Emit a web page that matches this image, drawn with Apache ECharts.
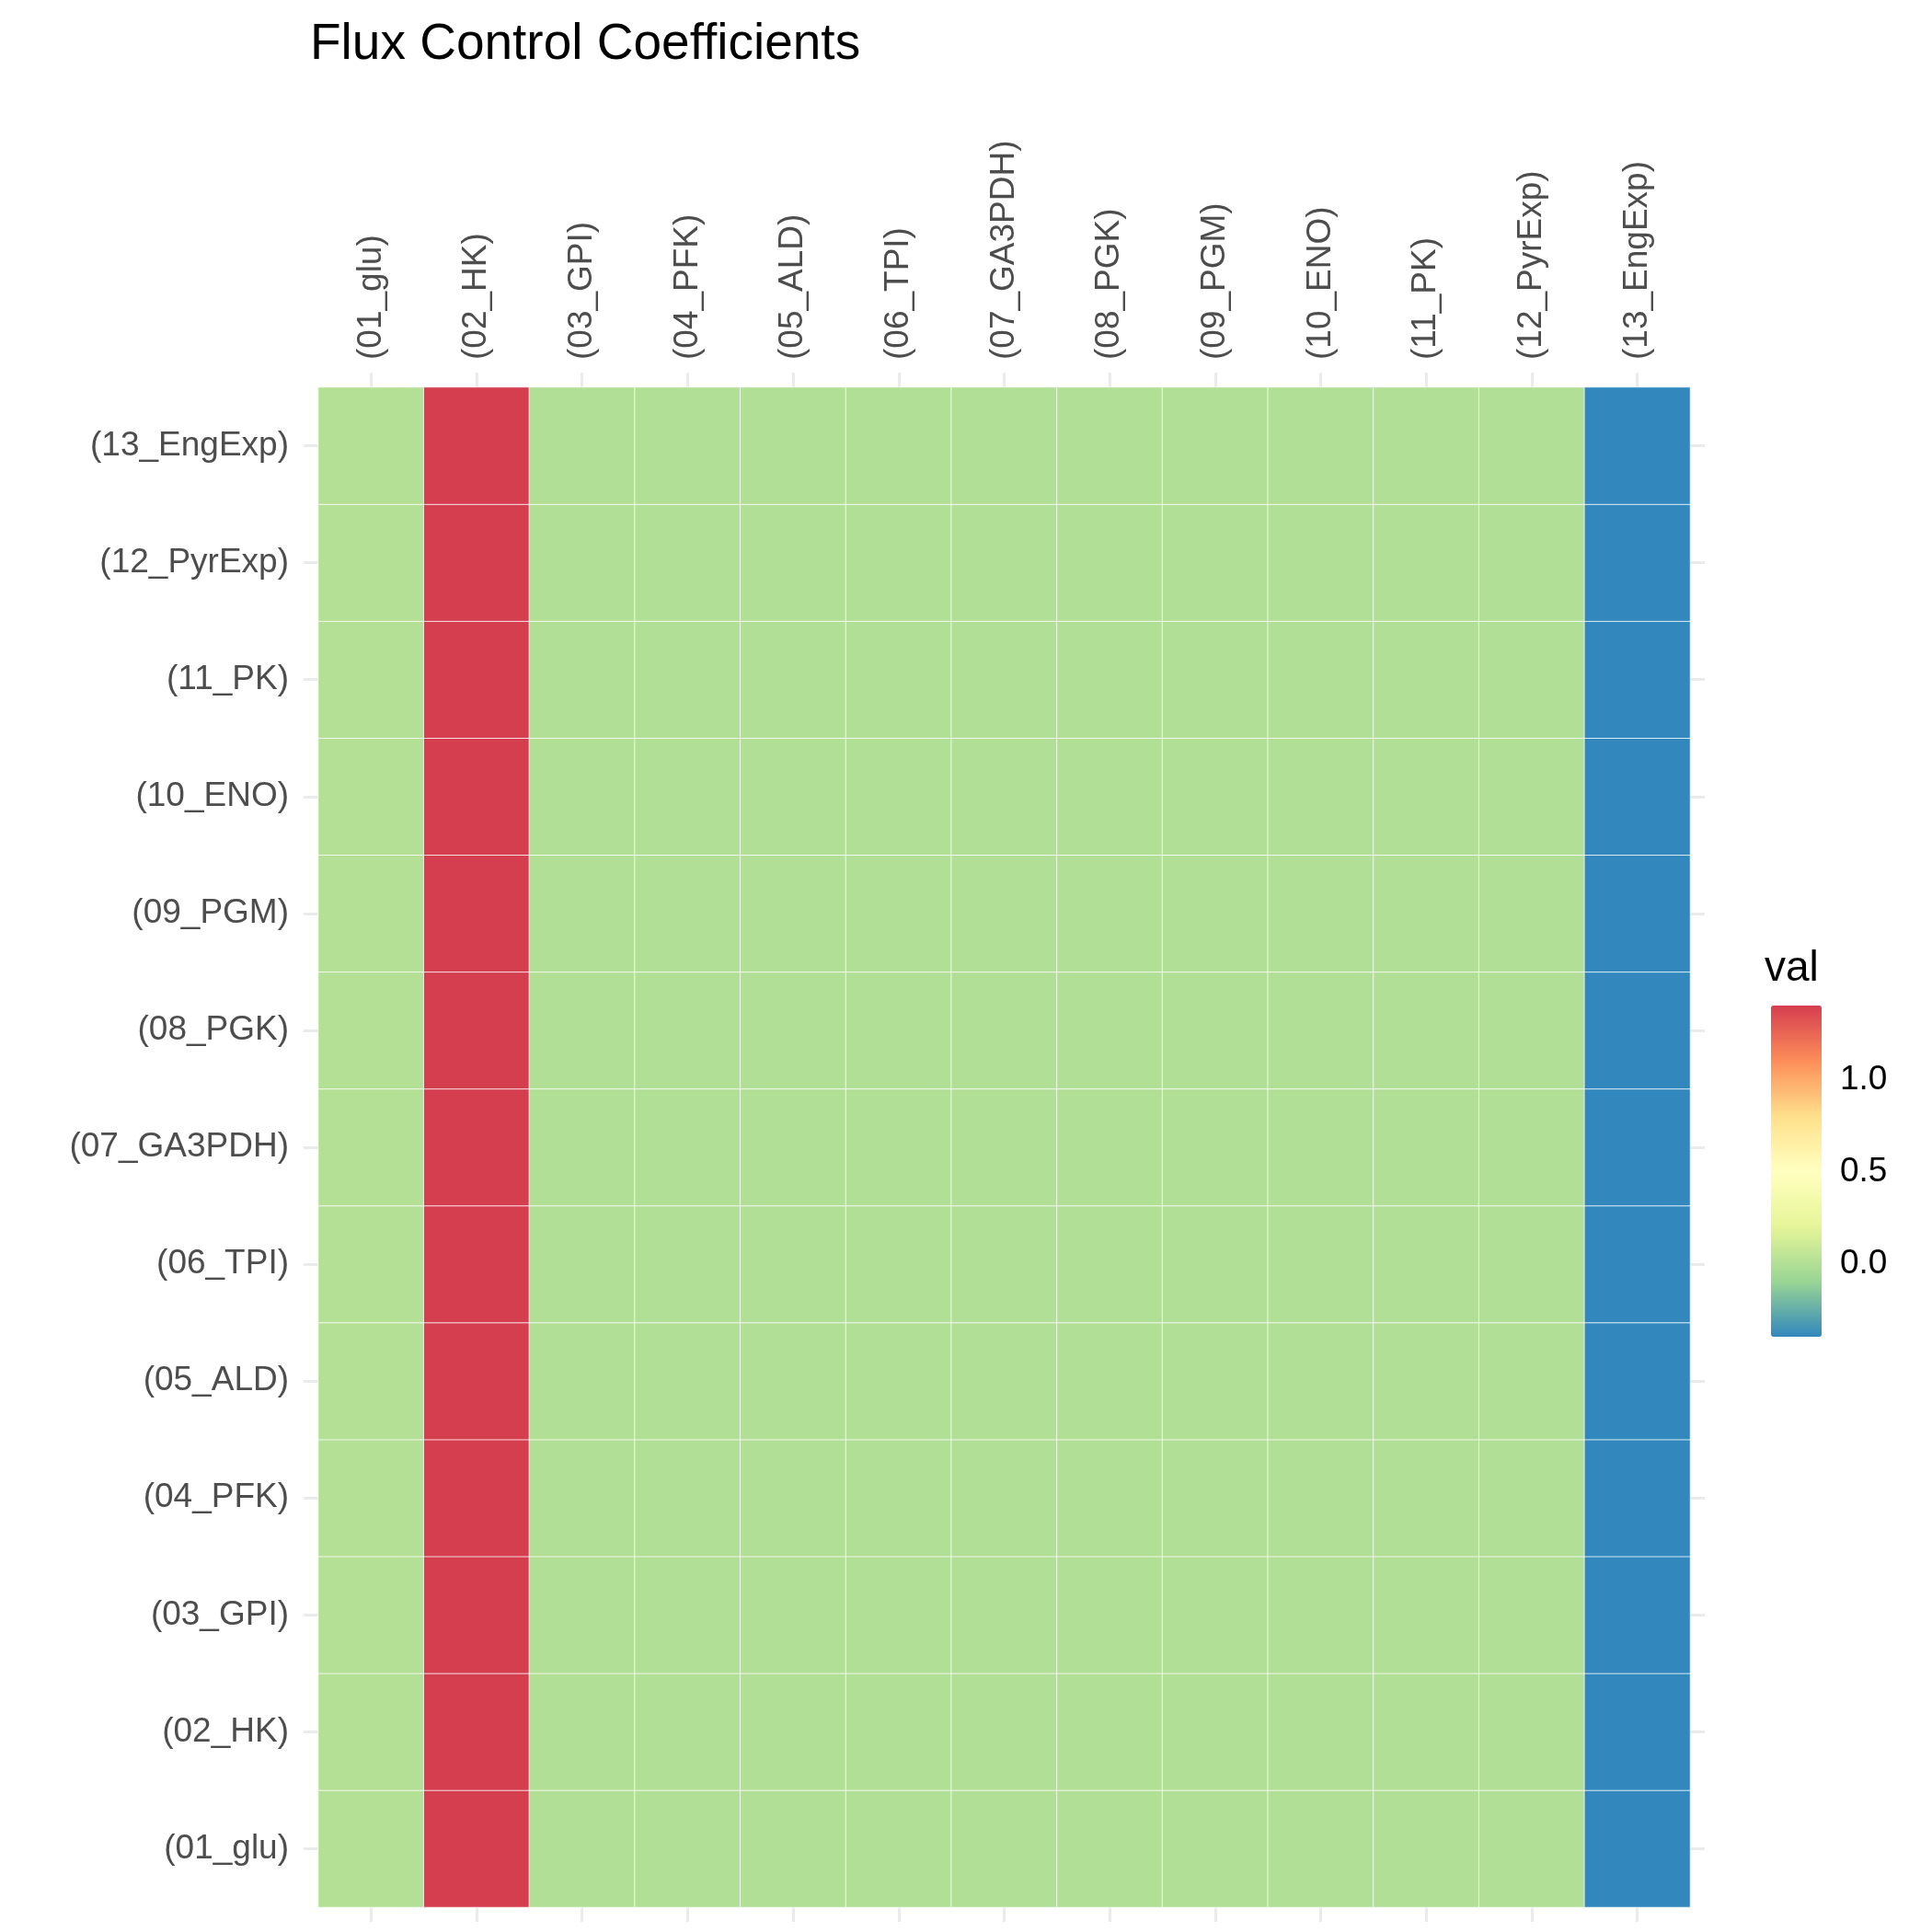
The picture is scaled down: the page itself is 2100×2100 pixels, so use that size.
<!DOCTYPE html>
<html>
<head>
<meta charset="utf-8">
<script src="https://cdn.jsdelivr.net/npm/echarts@6/dist/echarts.min.js"></script>
<style>html,body{margin:0;padding:0;background:#fff}#main{width:2100px;height:2100px}</style>
</head>
<body>
<div id="main"></div>
<script>
var reactions = ['(01_glu)', '(02_HK)', '(03_GPI)', '(04_PFK)', '(05_ALD)', '(06_TPI)', '(07_GA3PDH)',
	'(08_PGK)', '(09_PGM)', '(10_ENO)', '(11_PK)', '(12_PyrExp)', '(13_EngExp)'];
// control coefficient of each enzyme (column) - same for every flux row
var colValues = [0.01, 1.405, 0.0, 0.0, 0.0, 0.0, 0.0, 0.0, 0.0, 0.0, 0.0, 0.0, -0.395];
var legendTicks = [0, 0.5, 1.0];
var spectral = ['#3288bd', '#99d594', '#e6f598', '#ffffbf', '#fee08b', '#fc8d59', '#d53e4f'];

var cells = [];
for (var r = 0; r < reactions.length; r++) {
	for (var c = 0; c < reactions.length; c++) {
		cells.push([c, r, colValues[c]]);
	}
}

var chart = echarts.init(document.getElementById('main'));
var tickStyle = {show: true, alignWithLabel: true, length: 16, lineStyle: {color: '#ebebeb', width: 3}};
var option = {
	backgroundColor: '#fff',
	title: {
		text: 'Flux Control Coefficients', left: 332, top: 16,
		textStyle: {fontFamily: 'Liberation Sans', fontWeight: 'normal', fontSize: 55, color: '#000'}
	},
	grid: [
		{left: 346, top: 421, width: 1491, height: 1652},
		{left: 1925, top: 1093, width: 55, height: 360}
	],
	xAxis: [
		{type: 'category', data: reactions, position: 'top', gridIndex: 0,
			axisLine: {show: false}, axisTick: tickStyle,
			axisLabel: {rotate: -90, margin: 30, fontSize: 37, color: '#4d4d4d', fontFamily: 'Liberation Sans'}},
		{type: 'category', data: reactions, position: 'bottom', gridIndex: 0,
			axisLine: {show: false}, axisTick: tickStyle, axisLabel: {show: false}},
		{type: 'value', gridIndex: 1, show: false, min: 0, max: 1}
	],
	yAxis: [
		{type: 'category', data: reactions, position: 'left', gridIndex: 0,
			axisLine: {show: false}, axisTick: tickStyle,
			axisLabel: {margin: 32, fontSize: 37, color: '#4d4d4d', fontFamily: 'Liberation Sans'}},
		{type: 'category', data: reactions, position: 'right', gridIndex: 0,
			axisLine: {show: false}, axisTick: tickStyle, axisLabel: {show: false}},
		{type: 'value', gridIndex: 1, position: 'right', min: -0.395, max: 1.405,
			axisLine: {show: false}, splitLine: {show: false},
			axisTick: {show: true, inside: true, length: 14, customValues: legendTicks, lineStyle: {color: '#fff', width: 2}},
			axisLabel: {customValues: legendTicks, margin: 20, fontSize: 37, color: '#000', fontFamily: 'Liberation Sans',
				formatter: function (v) { return v.toFixed(1); }}},
		{type: 'value', gridIndex: 1, position: 'left', min: -0.395, max: 1.405,
			axisLine: {show: false}, splitLine: {show: false}, axisLabel: {show: false},
			axisTick: {show: true, inside: true, length: 14, customValues: legendTicks, lineStyle: {color: '#fff', width: 2}}}
	],
	visualMap: {
		type: 'continuous', min: -0.395, max: 1.405, seriesIndex: 0,
		left: 1925, top: 1093, itemWidth: 55, itemHeight: 360, padding: 0,
		calculable: false, text: ['', ''], showLabel: false, realtime: false,
		inRange: {color: spectral}
	},
	graphic: [{type: 'text', left: 1918, top: 1030,
		style: {text: 'val', fontSize: 46, fill: '#000', fontFamily: 'Liberation Sans'}}],
	series: [
		{type: 'heatmap', xAxisIndex: 0, yAxisIndex: 0, data: cells,
			itemStyle: {borderColor: 'rgba(255,255,255,0.8)', borderWidth: 1}},
		{type: 'scatter', xAxisIndex: 2, yAxisIndex: 2, data: [], silent: true}
	]
};
chart.setOption(option);
</script>
</body>
</html>
